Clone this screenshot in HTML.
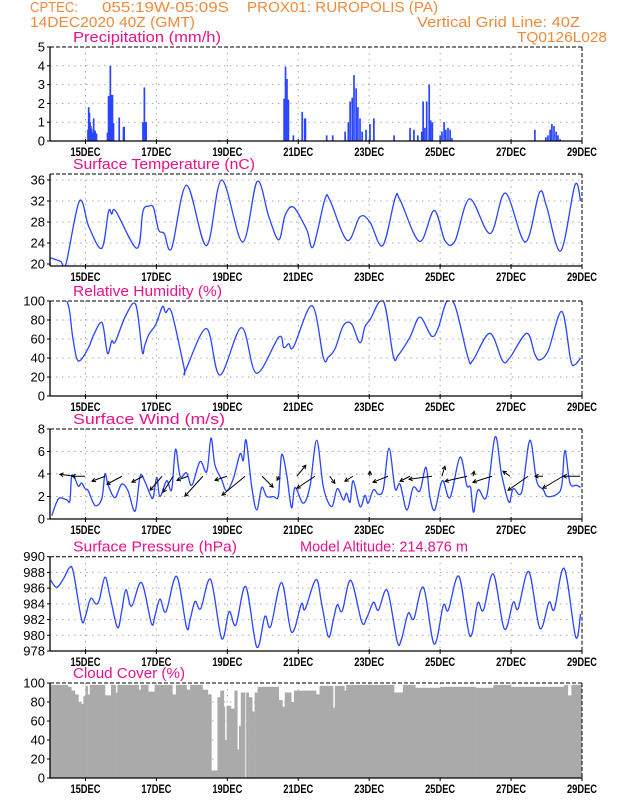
<!DOCTYPE html>
<html><head><meta charset="utf-8"><style>
html,body{margin:0;padding:0;background:#fff;}
svg{display:block;font-family:"Liberation Sans",sans-serif;}
</style></head><body>
<svg id="chart" width="618" height="800" viewBox="0 0 618 800" xmlns="http://www.w3.org/2000/svg">
<rect x="0" y="0" width="618" height="800" fill="#fff"/>
<defs id="defs"></defs>
<g fill="#f08a3c" font-size="15">
<text x="30" y="12" textLength="48" lengthAdjust="spacingAndGlyphs">CPTEC:</text>
<text x="102" y="12" textLength="127" lengthAdjust="spacingAndGlyphs">055:19W-05:09S</text>
<text x="247" y="12" textLength="191" lengthAdjust="spacingAndGlyphs">PROX01: RUROPOLIS (PA)</text>
<text x="30" y="27" textLength="165" lengthAdjust="spacingAndGlyphs">14DEC2020 40Z (GMT)</text>
<text x="417" y="27" textLength="163" lengthAdjust="spacingAndGlyphs">Vertical Grid Line: 40Z</text>
<text x="517" y="42" textLength="90" lengthAdjust="spacingAndGlyphs">TQ0126L028</text>
</g>
<g id="panels"></g>
</svg>
<script>
const dayTicks = [1,3,5,7,9,11,13,15];
const dayLabels = ["15DEC","17DEC","19DEC","21DEC","23DEC","25DEC","27DEC","29DEC"];

const precipT = [1.07,1.09,1.11,1.13,1.15,1.17,1.19,1.21,1.23,1.25,1.27,1.29,1.31,1.62,1.65,1.68,1.70,1.73,1.76,1.79,1.95,2.07,2.09,2.62,2.65,2.66,2.68,2.71,4.77,6.60,6.64,6.68,6.72,6.86,7.11,7.18,7.20,7.80,7.97,8.32,8.41,8.46,8.52,8.57,8.63,8.68,8.74,8.80,8.91,9.02,9.13,9.70,10.15,10.26,10.37,10.48,10.52,10.57,10.62,10.69,10.73,10.78,11.00,11.05,11.11,11.16,11.22,11.28,11.33,13.67,13.98,14.04,14.10,14.15,14.21,14.27,14.32,14.38];
const precipV = [0.6,1.8,1.5,1.0,0.8,0.65,0.45,0.45,1.2,0.55,0.55,0.4,0.4,0.45,2.4,2.4,4.0,2.45,2.45,0.95,1.25,0.75,0.75,1.0,1.0,2.85,1.0,1.0,0.05,2.25,3.95,3.3,2.2,0.3,1.55,1.2,1.2,0.3,0.3,0.5,1.0,2.1,2.3,3.5,2.8,1.8,1.2,0.5,0.6,0.9,1.2,0.3,0.7,0.6,0.3,0.5,2.1,0.7,2.1,3.0,1.1,1.0,0.3,0.5,1.0,0.6,0.7,0.6,0.15,0.6,0.2,0.3,0.6,0.9,0.8,0.5,0.3,0.1];

const tempT = [0,0.3,0.45,0.83,1.1,1.46,1.65,1.74,1.86,2.45,2.62,2.78,2.92,3.06,3.22,3.43,3.85,4.41,4.84,5.43,5.84,6.17,6.45,6.63,6.87,7.24,7.42,7.75,7.9,8.38,8.74,9.02,9.38,9.73,9.87,10.42,10.83,11.14,11.42,11.83,12.41,12.84,13.4,13.8,14.0,14.4,14.8,14.96];
const tempV = [21.2,20.5,20,32,27,23,30,29.5,30,23,30,31,30.7,26.5,25.8,23,35,23.5,36,24.2,35.7,29,24.6,29.3,30.8,26.5,23.3,32.3,32,24.5,29,28,23.5,32.5,32.2,24.3,30.2,24.4,24.4,32.4,25.8,33.5,24.2,33.6,31,22.5,35,32];

const rhT = [0,0.47,0.64,0.75,0.87,1.1,1.24,1.47,1.62,1.74,1.84,2.14,2.42,2.6,2.67,2.79,2.98,3.17,3.26,3.43,3.78,3.82,4.41,4.79,5.4,5.82,6.45,6.59,6.73,6.87,7.39,7.71,7.85,8.04,8.27,8.5,8.74,8.88,9.02,9.4,9.68,9.82,10.15,10.43,10.76,10.95,11.18,11.42,11.79,11.93,12.4,12.76,12.96,13.44,13.67,13.81,14.05,14.43,14.68,14.8,14.96];
const rhV = [100,100,62,40,38,52,65,77,45,58,57,85,96,47,53,65,75,94,88,88,30,27,71,22,72,24,62,51,55,52,95,40,41,50,74,76,56,73,80,100,42,43,62,83,63,72,99,95,40,38,66,37,40,66,44,38,48,89,38,33,40];

const windT = [0.05,0.24,0.47,0.56,0.61,0.7,0.8,0.89,0.99,1.08,1.27,1.46,1.55,1.64,1.83,2.02,2.2,2.4,2.54,2.68,2.82,2.91,3.01,3.1,3.29,3.43,3.54,3.67,3.85,4.0,4.23,4.42,4.54,4.65,4.84,4.98,5.17,5.36,5.45,5.53,5.69,5.83,5.97,6.11,6.3,6.44,6.53,6.67,6.81,6.91,7.14,7.33,7.52,7.71,7.94,8.1,8.27,8.36,8.46,8.55,8.74,8.88,8.97,9.12,9.26,9.4,9.56,9.73,9.87,10.06,10.24,10.43,10.6,10.71,10.85,11.06,11.28,11.56,11.75,11.86,11.94,12.07,12.31,12.55,12.73,12.94,13.06,13.3,13.53,13.72,13.91,14.02,14.29,14.43,14.52,14.66,14.85,14.96];
const windV = [0.3,1.8,1.7,1.6,3.8,3.6,2.9,3.2,2.7,2.5,1.2,1.8,4.0,3.0,1.9,3.1,2.5,0.7,3.8,3.3,2.2,1.9,3.7,2.0,3.4,2.6,6.2,3.8,4.1,3.0,5.1,4.2,7.2,4.8,3.5,2.5,3.6,5.8,5.2,7.0,2.8,0.8,2.8,2.0,2.0,2.1,5.7,4.0,1.0,2.8,1.4,2.9,7.0,2.8,1.1,2.7,1.7,2.3,1.5,3.4,1.1,2.1,1.4,2.6,2.2,2.7,6.3,2.7,3.1,0.8,2.8,2.5,4.6,2.0,0.8,3.4,1.9,5.5,3.0,2.8,0.6,2.6,2.0,7.3,4.0,1.5,2.7,2.4,7.0,3.4,2.6,2.0,2.2,3.0,6.1,3.2,3.0,2.8];

const arrowT = [0.70,0.99,1.55,2.03,2.62,3.16,3.47,3.89,4.31,4.99,5.50,5.98,6.46,6.96,7.47,7.89,8.54,9.02,9.53,10.15,10.77,11.05,11.76,11.93,12.46,12.97,13.48,13.90,14.46,14.95];
const arrowU = [-3.75,-3.25,-3.25,-3.75,-2.75,-3,-2.5,-2.75,-4.5,-3,-5.75,2.75,-0.5,2.25,-4.5,1.25,-2,0,-3.75,-2.5,-5.75,0.75,-5.5,0.25,-4.75,-1.75,-5,-2,-5,-4.25];
const arrowV = [0.5,0,-1.25,-2,-1.5,-3.5,-4,-1,-5,-1,-4.75,-2.75,-1,2.75,-3,-1.75,-1.25,1.25,-1.5,-1.25,-0.75,2.5,-1.25,1.25,-1.5,1.25,-3.5,0,-3,0];

const presT = [0.02,0.19,0.38,0.55,0.66,0.89,0.99,1.11,1.18,1.29,1.39,1.55,1.69,1.9,2.02,2.14,2.3,2.58,2.86,2.96,3.1,3.27,3.57,3.85,3.95,4.09,4.25,4.53,4.84,5.05,5.24,5.52,5.83,6.06,6.22,6.53,6.81,7.09,7.19,7.5,7.66,7.85,7.99,8.1,8.24,8.48,8.79,8.93,9.12,9.26,9.51,9.79,9.91,10.1,10.26,10.53,10.83,11.09,11.23,11.53,11.84,12.06,12.22,12.5,12.81,13.06,13.2,13.5,13.81,14.07,14.22,14.5,14.82,14.96];
const presV = [987,986.1,987.2,988.6,988,982,982.3,984.3,984.7,984,984.5,987.4,985,981,983,985.8,983.7,986.7,981.5,982.5,984.6,983,987.5,981,982,984.3,983.4,987.1,979.6,983,981.3,986.2,978.5,982.4,981.1,986.7,980.4,984,983.3,987.1,984,979.8,982,983.9,983.1,987,981.7,982.2,984.2,983.2,985.7,979.2,979.5,982.8,982.1,986.1,978.9,983.8,983.2,987.5,979.9,984.1,983.2,987.8,980.8,984.2,983.4,988.1,980.9,984.2,983.3,988.5,979.8,982.7];

const cloudT = [0,0.5,0.6,0.7,0.8,0.88,0.94,1.0,1.06,1.12,1.55,1.72,1.85,1.9,2.5,2.56,2.77,2.95,3.45,3.55,3.85,3.95,4.3,4.45,4.55,4.72,4.8,4.9,4.93,4.98,5.1,5.2,5.28,5.33,5.38,5.5,5.53,5.6,5.7,5.77,5.85,6.45,6.55,6.62,6.8,6.88,7.5,7.6,7.98,8.03,8.3,8.35,9.7,9.95,10.3,11.0,12.0,12.5,13.0,14.5,14.6,14.7];
const cloudV = [98,96,92,88,80,78,86,97,88,98,87,98,90,98,93,98,91,98,88,98,93,98,93,88,8,85,92,75,40,76,73,92,30,55,90,0,90,85,70,90,96,82,75,90,80,92,88,97,74,97,92,98,90,98,95,96,95,98,96,98,87,98];

const NS = "http://www.w3.org/2000/svg";
const X0 = 50, X1 = 582, TMAX = 15;
const xScale = t => X0 + t * (X1 - X0) / TMAX;
const root = document.getElementById('panels');
const defs = document.getElementById('defs');
function mk(tag, attrs, parent){
  const e = document.createElementNS(NS, tag);
  for (const k in attrs) e.setAttribute(k, attrs[k]);
  (parent || root).appendChild(e);
  return e;
}
function smoothPath(pts){
  let d = "M" + pts[0][0].toFixed(2) + "," + pts[0][1].toFixed(2);
  for (let i = 0; i < pts.length - 1; i++){
    const p0 = pts[Math.max(0,i-1)], p1 = pts[i], p2 = pts[i+1], p3 = pts[Math.min(pts.length-1,i+2)];
    const c1x = p1[0] + (p2[0]-p0[0])/6, c1y = p1[1] + (p2[1]-p0[1])/6;
    const c2x = p2[0] - (p3[0]-p1[0])/6, c2y = p2[1] - (p3[1]-p1[1])/6;
    d += " C" + c1x.toFixed(2)+","+c1y.toFixed(2)+" "+c2x.toFixed(2)+","+c2y.toFixed(2)+" "+p2[0].toFixed(2)+","+p2[1].toFixed(2);
  }
  return d;
}
function panel(key, title, top, bottom, vmin, vmax, ticks, titleW){
  const g = mk('g', {});
  
  
  const yScale = v => bottom - (v - vmin) * (bottom - top) / (vmax - vmin);
  const cp = mk('clipPath', {id: 'clip-' + key}, defs);
  mk('rect', {x: X0, y: top, width: X1 - X0, height: bottom - top}, cp);
  const t = mk('text', {x: 73, y: top - 5, fill: '#e8118a', 'font-size': 15, textLength: titleW, lengthAdjust: 'spacingAndGlyphs'}, g);
  t.textContent = title;
  
  
  ticks.forEach(v => {
    const y = yScale(v);
    const gl = mk('line', {x1: X0, x2: X1, y1: y, y2: y, stroke: '#aaa', 'stroke-width': 1, 'stroke-dasharray': '1.5,4.5'}, g);
    
    
    const tk = mk('line', {x1: X0 - 3, x2: X0, y1: y, y2: y, stroke: '#000', 'stroke-width': 1}, g);
    
    
    const lb = mk('text', {x: X0 - 5, y: y + 4.5, 'text-anchor': 'end', 'font-size': 13, fill: '#000'}, g);
    lb.textContent = String(v);
    
    
  });
  dayTicks.forEach((d, i) => {
    const x = xScale(d);
    if (d < TMAX){
      const vl = mk('line', {x1: x, x2: x, y1: top, y2: bottom, stroke: '#aaa', 'stroke-width': 1, 'stroke-dasharray': '1.5,4.5'}, g);
      
      
    }
    const tk = mk('line', {x1: x, x2: x, y1: bottom - 2, y2: bottom + 3, stroke: '#000', 'stroke-width': 1}, g);
    
    
    const lb = mk('text', {x: x, y: bottom + 15, 'text-anchor': 'middle', 'font-size': 12, 'font-weight': 'bold', fill: '#000', textLength: 30, lengthAdjust: 'spacingAndGlyphs'}, g);
    lb.textContent = dayLabels[i];
    
    
  });
  const marks = mk('g', {'clip-path': 'url(#clip-' + key + ')'}, g);
  
  
  const frame = () => {
    const f = mk('g', {}, g);
    
    
    mk('line', {x1: X0, x2: X1, y1: top, y2: top, stroke: '#000', 'stroke-width': 1, 'stroke-dasharray': '4,2'}, f);
    mk('line', {x1: X1, x2: X1, y1: top, y2: bottom, stroke: '#000', 'stroke-width': 1, 'stroke-dasharray': '4,2'}, f);
    mk('line', {x1: X0, x2: X1, y1: bottom, y2: bottom, stroke: '#000', 'stroke-width': 1.3}, f);
    mk('line', {x1: X0, x2: X0, y1: top, y2: bottom, stroke: '#000', 'stroke-width': 1.3}, f);
  };
  return {g, marks, yScale, frame};
}
function linePanel(p, T, V, key){
  const pts = T.map((t, i) => [xScale(t), p.yScale(V[i])]);
  const path = mk('path', {d: smoothPath(pts), fill: 'none', stroke: '#2a45ff', 'stroke-width': 1.3}, p.marks);
  
  
}

const P1 = panel('precipitation', 'Precipitation (mm/h)', 47, 141, 0, 5, [0,1,2,3,4,5], 148);
precipT.forEach((t, i) => {
  const y = P1.yScale(precipV[i]);
  const r = mk('rect', {x: xScale(t) - 0.8, y: y, width: 1.7, height: P1.yScale(0) - y, fill: '#2a45ff'}, P1.marks);
  
  
});
P1.frame();

const P2 = panel('temperature', 'Surface Temperature (nC)', 174, 266, 19.62, 37.14, [20,24,28,32,36], 182);
linePanel(P2, tempT, tempV, 'temperature');
P2.frame();

const P3 = panel('humidity', 'Relative Humidity (%)', 301, 396, 0, 100, [0,20,40,60,80,100], 149);
linePanel(P3, rhT, rhV, 'humidity');
P3.frame();

const P4 = panel('wind', 'Surface Wind (m/s)', 429, 519, 0, 8, [0,2,4,6,8], 152);
linePanel(P4, windT, windV, 'wind');
arrowT.forEach((t, i) => {
  const x0 = xScale(t), y0 = P4.yScale(3.8);
  const x1 = x0 + arrowU[i] * 4, y1 = y0 - arrowV[i] * 4;
  const a = mk('g', {}, P4.marks);
  
  
  mk('line', {x1: x0, y1: y0, x2: x1, y2: y1, stroke: '#000', 'stroke-width': 1}, a);
  const ang = Math.atan2(y1 - y0, x1 - x0), h = 4;
  const p1x = x1 - h * Math.cos(ang - 0.5), p1y = y1 - h * Math.sin(ang - 0.5);
  const p2x = x1 - h * Math.cos(ang + 0.5), p2y = y1 - h * Math.sin(ang + 0.5);
  mk('path', {d: `M${p1x},${p1y} L${x1},${y1} L${p2x},${p2y}`, fill: 'none', stroke: '#000', 'stroke-width': 1}, a);
});
P4.frame();

const P5 = panel('pressure', 'Surface Pressure (hPa)', 556.7, 651, 978, 990, [978,980,982,984,986,988,990], 164);
const alt = mk('text', {x: 300, y: 551.7, fill: '#e8118a', 'font-size': 15, textLength: 168, lengthAdjust: 'spacingAndGlyphs'}, P5.g);
alt.textContent = 'Model Altitude: 214.876 m';


linePanel(P5, presT, presV, 'pressure');
P5.frame();

const P6 = panel('cloud', 'Cloud Cover (%)', 683, 778, 0, 100, [0,20,40,60,80,100], 112);
cloudT.forEach((t, i) => {
  const tEnd = i + 1 < cloudT.length ? cloudT[i+1] : TMAX;
  const y = P6.yScale(cloudV[i]);
  const r = mk('rect', {x: xScale(t), y: y, width: xScale(tEnd) - xScale(t) + 0.3, height: P6.yScale(0) - y, fill: '#aaaaaa'}, P6.marks);
  
  
});
P6.frame();
</script>
</body></html>
